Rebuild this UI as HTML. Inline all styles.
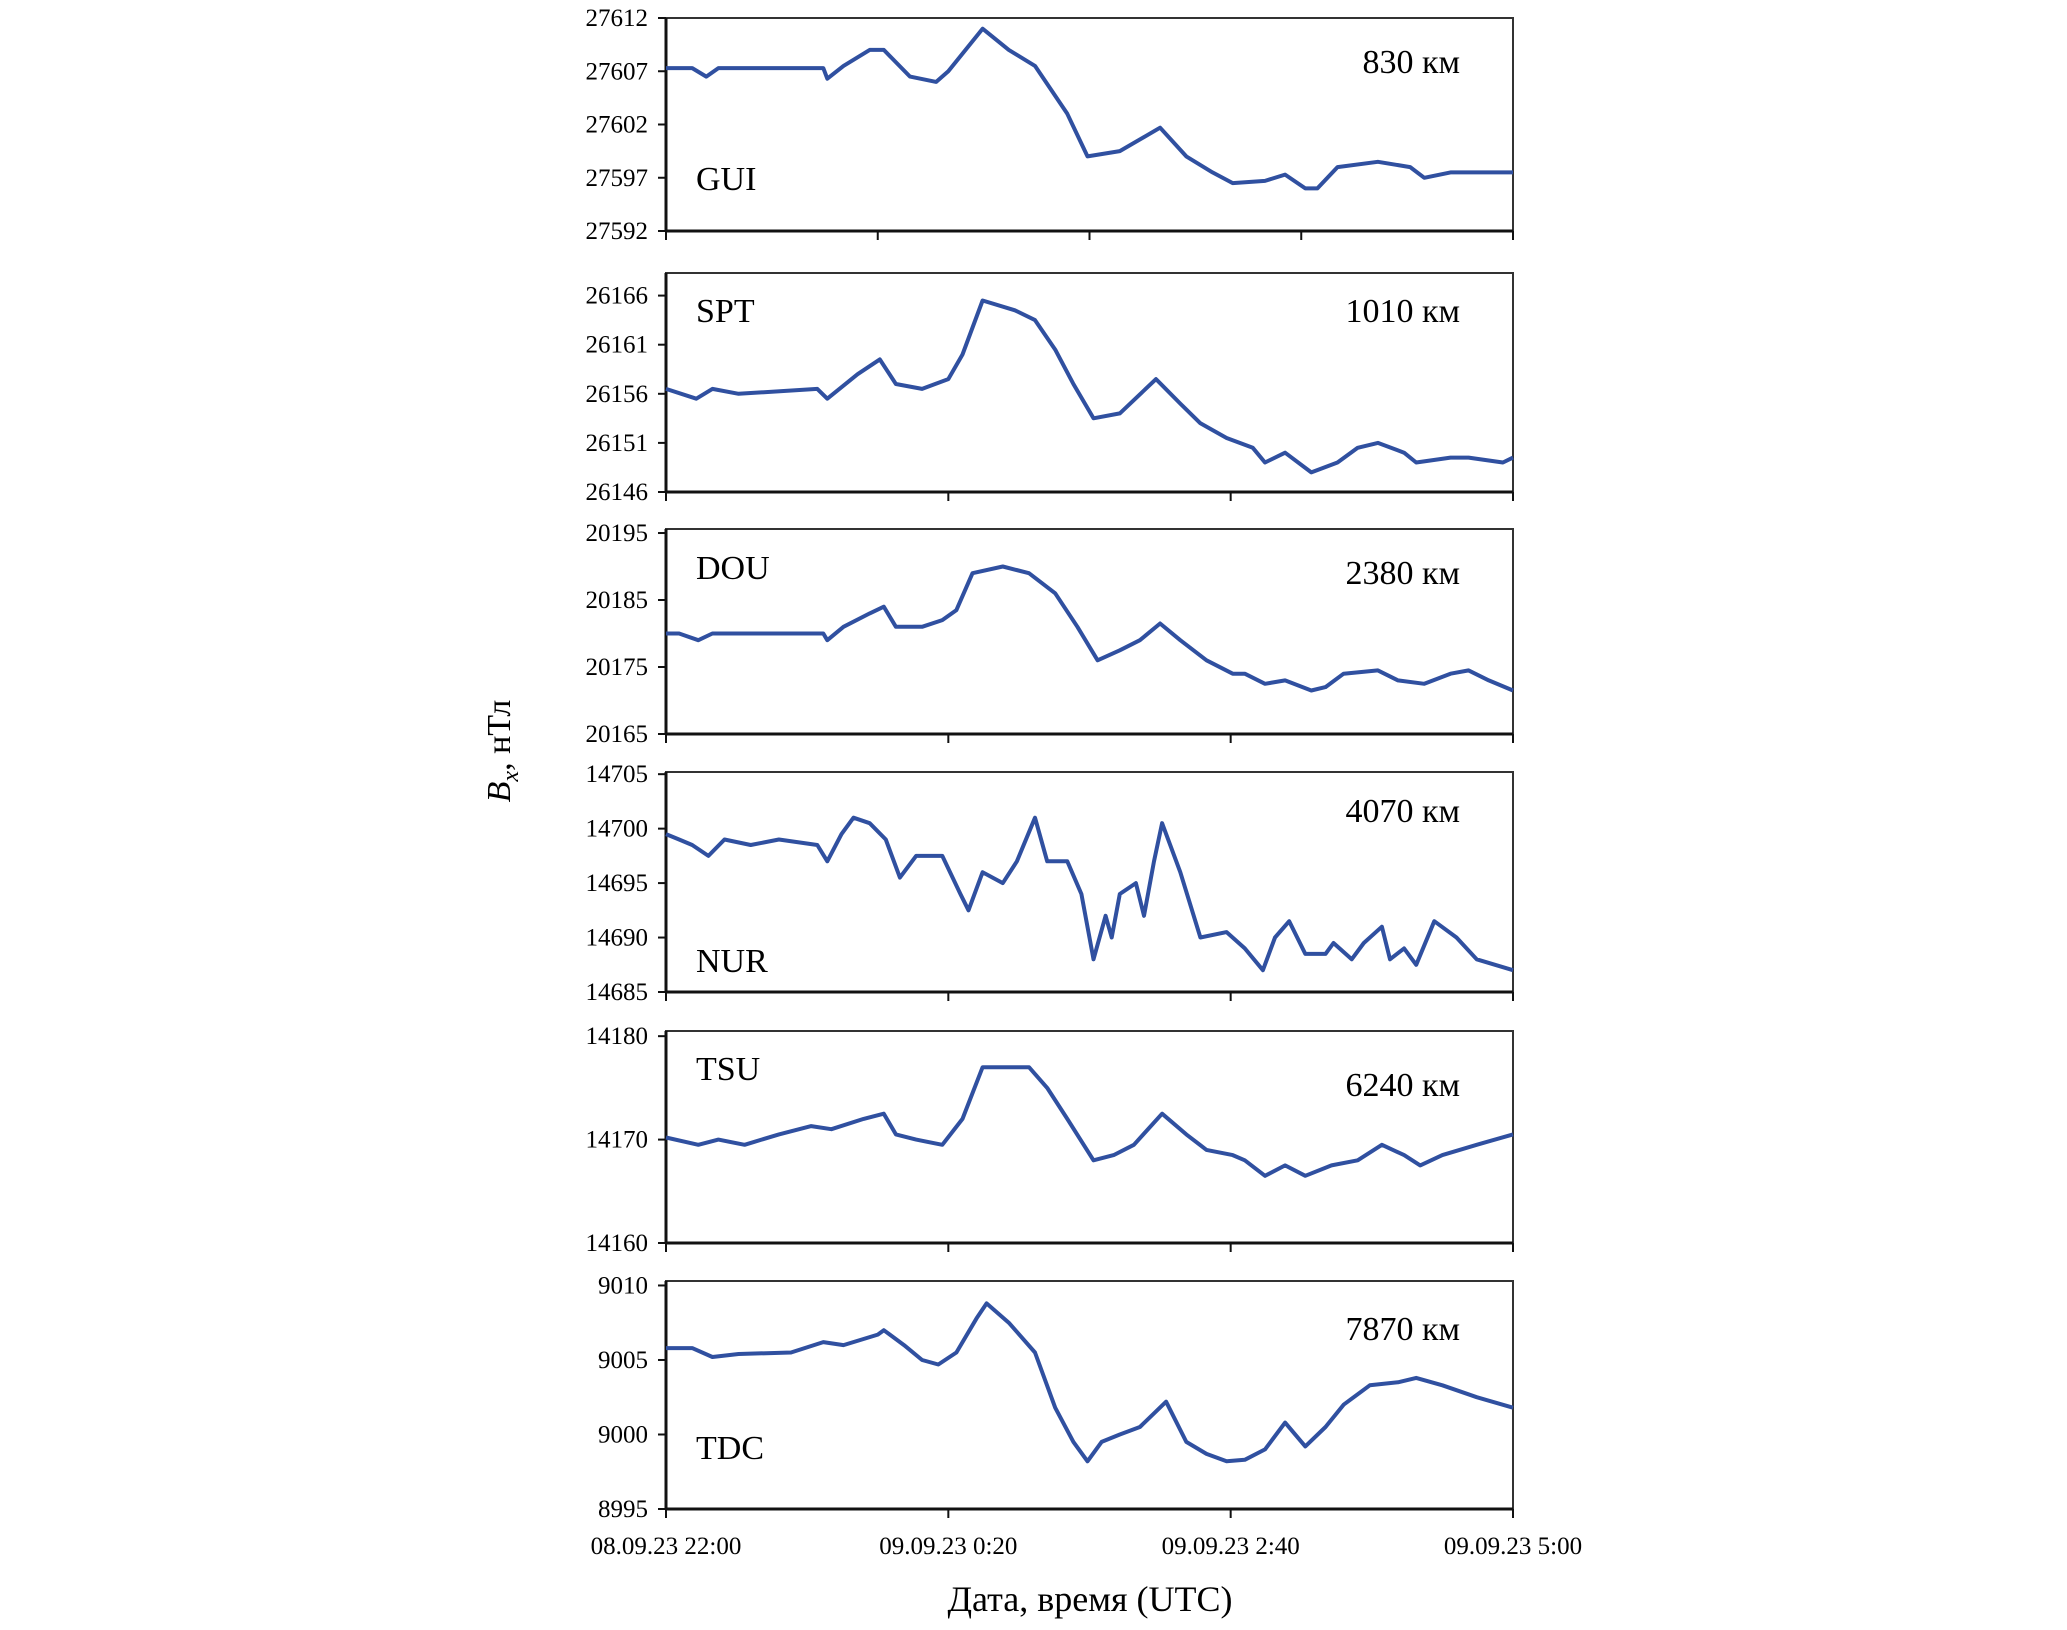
<!DOCTYPE html>
<html><head><meta charset="utf-8"><style>
html,body{margin:0;padding:0;background:#fff;}
svg{display:block;font-family:"Liberation Serif",serif;}
</style></head><body>
<svg id="chart" width="2067" height="1630" viewBox="0 0 2067 1630" xmlns="http://www.w3.org/2000/svg"></svg>
<script>
const stations = ["GUI","SPT","DOU","NUR","TSU","TDC"];
const distances = ["830 км","1010 км","2380 км","4070 км","6240 км","7870 км"];
const xTickLabels = ["08.09.23 22:00","09.09.23 0:20","09.09.23 2:40","09.09.23 5:00"];
const xTickMinutes = [0,140,280,420];
const yTicksGUI = [27592,27597,27602,27607,27612];
const yTicksSPT = [26146,26151,26156,26161,26166];
const yTicksDOU = [20165,20175,20185,20195];
const yTicksNUR = [14685,14690,14695,14700,14705];
const yTicksTSU = [14160,14170,14180];
const yTicksTDC = [8995,9000,9005,9010];

const tGUI = [0,13,20,26,36,78,80,88,101,108,121,134,140,157,170,183,199,209,225,245,258,271,281,297,307,317,323,333,353,369,376,389,420];
const vGUI = [27607.3,27607.3,27606.5,27607.3,27607.3,27607.3,27606.3,27607.5,27609,27609,27606.5,27606,27607,27611,27609,27607.5,27603,27599,27599.5,27601.7,27599,27597.5,27596.5,27596.7,27597.3,27596,27596,27598,27598.5,27598,27597,27597.5,27597.5];

const tSPT = [0,15,23,36,75,80,95,106,114,127,140,147,157,173,183,193,202,212,225,243,255,265,278,291,297,307,320,333,343,353,366,372,389,398,415,420];
const vSPT = [26156.5,26155.5,26156.5,26156,26156.5,26155.5,26158,26159.5,26157,26156.5,26157.5,26160,26165.5,26164.5,26163.5,26160.5,26157,26153.5,26154,26157.5,26155,26153,26151.5,26150.5,26149,26150,26148,26149,26150.5,26151,26150,26149,26149.5,26149.5,26149,26149.5];

const tDOU = [0,6.5,16,23,36,78,80,88,101,108,114,127,137,144,152,167,180,193,204,214,225,235,245,255,268,281,287,297,307,320,327,336,353,363,376,389,398,408,420];
const vDOU = [20180,20180,20179,20180,20180,20180,20179,20181,20183,20184,20181,20181,20182,20183.5,20189,20190,20189,20186,20181,20176,20177.5,20179,20181.5,20179,20176,20174,20174,20172.5,20173,20171.5,20172,20174,20174.5,20173,20172.5,20174,20174.5,20173,20171.5];

const tNUR = [0,6.5,13,21,29,42,56,75,80,87,93,101,109,116,124,137,146,150,157,167,174,183,189,199,206,212,218,221,225,233,237,242,246,255,265,278,287,296,302,309,317,327,331,340,346,355,359,366,372,381,392,402,420];
const vNUR = [14699.5,14699,14698.5,14697.5,14699,14698.5,14699,14698.5,14697,14699.5,14701,14700.5,14699,14695.5,14697.5,14697.5,14694,14692.5,14696,14695,14697,14701,14697,14697,14694,14688,14692,14690,14694,14695,14692,14697,14700.5,14696,14690,14690.5,14689,14687,14690,14691.5,14688.5,14688.5,14689.5,14688,14689.5,14691,14688,14689,14687.5,14691.5,14690,14688,14687];

const tTSU = [0,16,26,39,56,72,82,98,108,114,124,137,147,157,180,189,199,212,222,232,246,258,268,281,287,297,307,317,330,343,355,366,374,385,402,420];
const vTSU = [14170.2,14169.5,14170,14169.5,14170.5,14171.3,14171,14172,14172.5,14170.5,14170,14169.5,14172,14177,14177,14175,14172,14168,14168.5,14169.5,14172.5,14170.5,14169,14168.5,14168,14166.5,14167.5,14166.5,14167.5,14168,14169.5,14168.5,14167.5,14168.5,14169.5,14170.5];

const tTDC = [0,13,23,36,62,78,88,105,108,118,127,135,144,154,159,170,183,193,202,209,216,225,235,248,258,268,278,287,297,307,317,327,336,349,363,372,385,402,420];
const vTDC = [9005.8,9005.8,9005.2,9005.4,9005.5,9006.2,9006,9006.7,9007,9006,9005,9004.7,9005.5,9007.8,9008.8,9007.5,9005.5,9001.8,8999.5,8998.2,8999.5,9000,9000.5,9002.2,8999.5,8998.7,8998.2,8998.3,8999,9000.8,8999.2,9000.5,9002,9003.3,9003.5,9003.8,9003.3,9002.5,9001.8];

const svg = document.getElementById('chart');
const NS = 'http://www.w3.org/2000/svg';
const X0 = 666, X1 = 1513, TMAX = 420;
const xs = t => X0 + (X1 - X0) * t / TMAX;

const panels = [
  {top:18, bot:231, lo:27592, hi:27612, ticks:yTicksGUI, t:tGUI, v:vGUI, xt:[0,105,210,315,420], lblY:178, dY:62},
  {top:273, bot:492, lo:26146, hi:26168.3, ticks:yTicksSPT, t:tSPT, v:vSPT, xt:xTickMinutes, lblY:310, dY:311},
  {top:529, bot:734, lo:20165, hi:20195.6, ticks:yTicksDOU, t:tDOU, v:vDOU, xt:xTickMinutes, lblY:567, dY:573},
  {top:772, bot:992, lo:14685, hi:14705.2, ticks:yTicksNUR, t:tNUR, v:vNUR, xt:xTickMinutes, lblY:960, dY:811},
  {top:1031, bot:1243, lo:14160, hi:14180.5, ticks:yTicksTSU, t:tTSU, v:vTSU, xt:xTickMinutes, lblY:1068, dY:1085},
  {top:1281, bot:1509, lo:8995, hi:9010.3, ticks:yTicksTDC, t:tTDC, v:vTDC, xt:xTickMinutes, lblY:1447, dY:1329}
];

function mk(tag, attrs, parent){
  const e = document.createElementNS(NS, tag);
  for (const k in attrs) e.setAttribute(k, attrs[k]);
  (parent||svg).appendChild(e);
  return e;
}

panels.forEach((p, i) => {
  const g = mk('g', {});
  
  
  const ys = v => p.bot - (p.bot - p.top) * (v - p.lo) / (p.hi - p.lo);
  const frame = mk('rect', {x:X0, y:p.top, width:X1-X0, height:p.bot-p.top, fill:'none', stroke:'#333', 'stroke-width':2}, g);
  
  
  mk('line', {x1:X0, y1:p.top, x2:X0, y2:p.bot, stroke:'#111', 'stroke-width':3}, g);
  mk('line', {x1:X0, y1:p.bot, x2:X1, y2:p.bot, stroke:'#111', 'stroke-width':3}, g);
  p.ticks.forEach(v => {
    const y = ys(v);
    mk('line', {x1:X0-8, y1:y, x2:X0, y2:y, stroke:'#111', 'stroke-width':2}, g);
    const tx = mk('text', {x:X0-18, y:y+8, 'text-anchor':'end', 'font-size':25}, g);
    tx.textContent = v;
    
    
  });
  p.xt.forEach(t => {
    mk('line', {x1:xs(t), y1:p.bot, x2:xs(t), y2:p.bot+9, stroke:'#111', 'stroke-width':2}, g);
  });
  const pts = p.t.map((t, k) => xs(t).toFixed(1) + ',' + ys(p.v[k]).toFixed(1)).join(' ');
  const line = mk('polyline', {points:pts, fill:'none', stroke:'#3050a0', 'stroke-width':4, 'stroke-linejoin':'round'}, g);
  
  
  const lb = mk('text', {x:696, y:p.lblY+12, 'font-size':34}, g);
  lb.textContent = stations[i];
  
  
  const dl = mk('text', {x:1460, y:p.dY+11, 'text-anchor':'end', 'font-size':34}, g);
  dl.textContent = distances[i];
  
  
});

xTickLabels.forEach((s, i) => {
  const tx = mk('text', {x:xs(xTickMinutes[i]), y:1554, 'text-anchor':'middle', 'font-size':25});
  tx.textContent = s;
  
  
});

const xt = mk('text', {x:1090, y:1611, 'text-anchor':'middle', 'font-size':36});
xt.textContent = 'Дата, время (UTC)';



const yt = mk('text', {x:0, y:0, 'text-anchor':'middle', 'font-size':34, transform:'translate(510,751) rotate(-90)'});
yt.innerHTML = '<tspan font-style="italic">B</tspan><tspan font-style="italic" font-size="24" dy="8">x</tspan><tspan dy="-8">, нТл</tspan>';


</script>
</body></html>
